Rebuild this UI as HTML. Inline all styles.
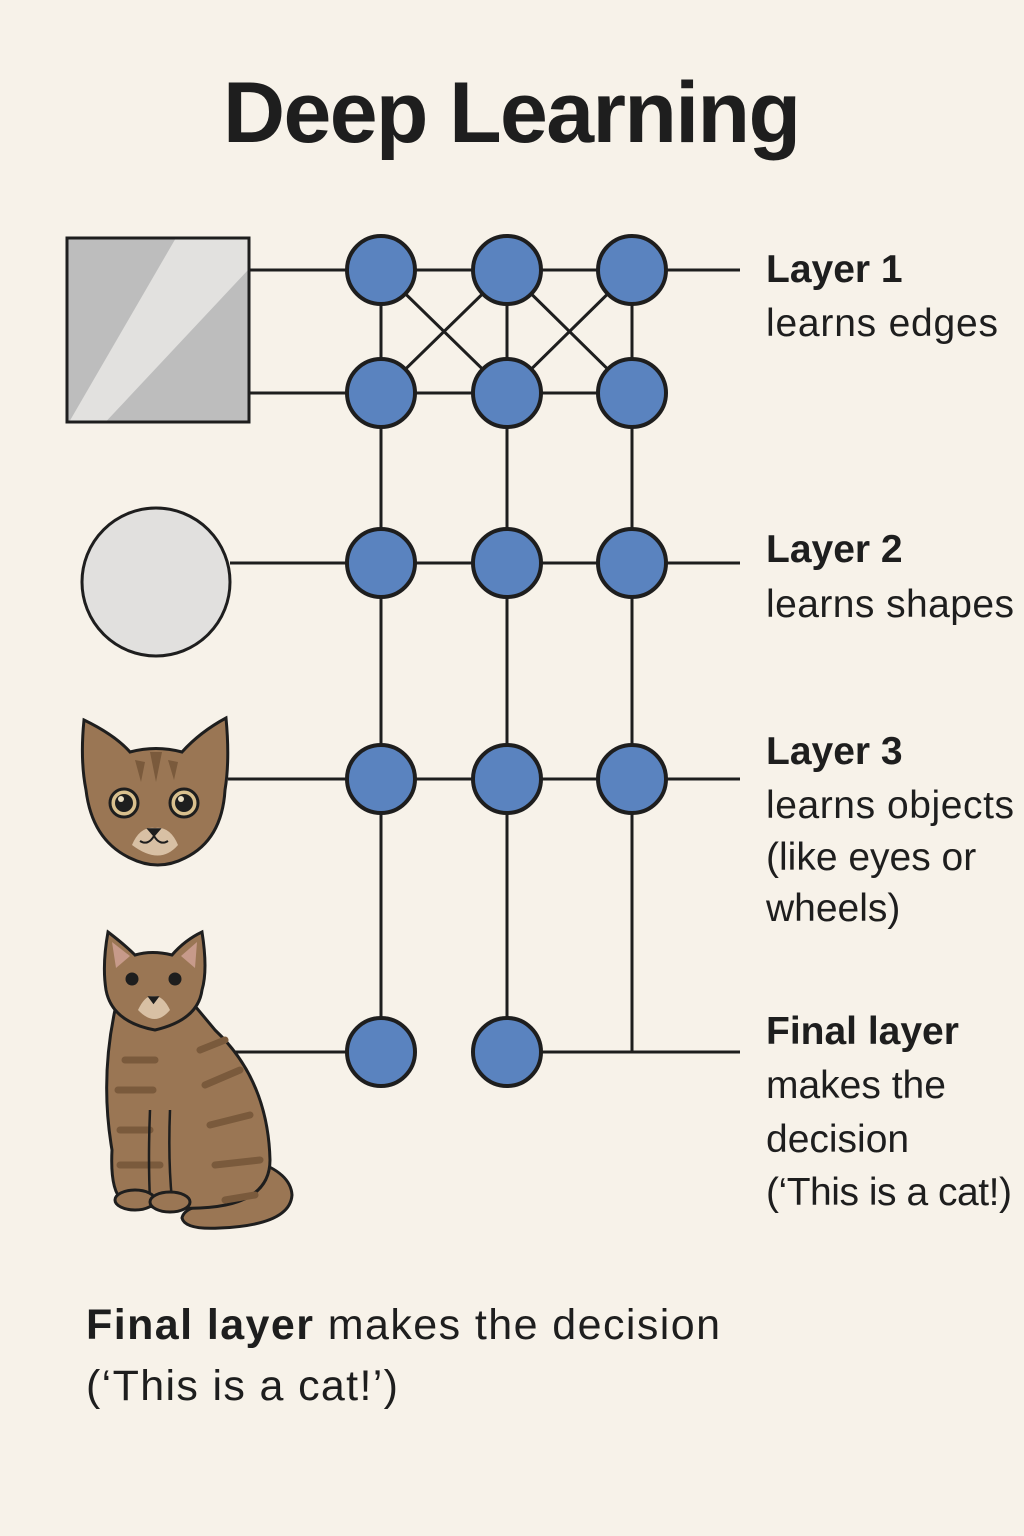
<!DOCTYPE html>
<html><head><meta charset="utf-8"><style>
html,body{margin:0;padding:0;background:#f7f2e9;}
svg{display:block;font-family:"Liberation Sans",sans-serif;}
</style></head><body>
<svg id="chart" width="1024" height="1536" viewBox="0 0 1024 1536" xmlns="http://www.w3.org/2000/svg">
<rect width="1024" height="1536" fill="#f7f2e9"/>
<text x="512" y="142" text-anchor="middle" font-size="86" font-weight="bold" fill="#1e1e1e" textLength="578">Deep Learning</text>
<g id="lines" stroke="#1e1e1e" stroke-width="3" fill="none"></g>
<g id="nodes"></g>

<g>
<rect x="67" y="238" width="182" height="184" fill="#bdbdbd" stroke="#1e1e1e" stroke-width="3"/>
<polygon points="175,239.5 248,239.5 248,270 107,420.5 70,420.5" fill="#e2e1df"/>
<rect x="67" y="238" width="182" height="184" fill="none" stroke="#1e1e1e" stroke-width="3"/>
</g>
<circle cx="156" cy="582" r="74" fill="#e1e0de" stroke="#1e1e1e" stroke-width="3"/>

<g stroke="#1e1e1e" stroke-width="3">
<path d="M84,720 Q115,735 130,752 Q156,745 182,752 Q200,732 226,718 Q230,760 225,790 Q222,840 185,858 Q158,872 130,858 Q92,840 86,790 Q80,760 84,720Z" fill="#9a7654"/>
<g stroke="none" fill="#7a5a3c"><path d="M150,752 l6,30 l6,-30z"/><path d="M135,760 l6,22 l4,-20z"/><path d="M168,760 l6,20 l4,-18z"/></g>
<circle cx="124" cy="803" r="14" fill="#d9c08e"/><circle cx="124" cy="803" r="9" fill="#1e1e1e" stroke="none"/><circle cx="121" cy="799" r="3" fill="#e8dcc0" stroke="none"/>
<circle cx="184" cy="803" r="14" fill="#d9c08e"/><circle cx="184" cy="803" r="9" fill="#1e1e1e" stroke="none"/><circle cx="181" cy="799" r="3" fill="#e8dcc0" stroke="none"/>
<path d="M132,845 Q140,826 155,828 Q170,826 178,845 Q160,866 132,845Z" fill="#d8c0a4" stroke="none"/>
<path d="M148,829 h12 l-6,7z" fill="#1e1e1e" stroke-width="1.5"/>
<path d="M154,836 q-6,10 -14,5 M154,836 q6,10 14,5" fill="none" stroke-width="2"/>
</g>

<g stroke="#1e1e1e" stroke-width="3">
<path d="M200,1150 Q290,1160 292,1195 Q290,1225 220,1228 Q185,1230 182,1218 Q185,1205 215,1205 Q260,1200 255,1185Z" fill="#9a7654"/>
<path d="M115,1010 Q100,1080 112,1150 Q110,1190 122,1200 Q150,1210 200,1208 Q270,1205 270,1160 Q268,1080 215,1030 Q200,1012 190,1000Z" fill="#9a7654"/>
<path d="M108,932 Q125,945 135,955 Q152,950 172,955 Q185,940 202,932 Q208,970 202,990 Q198,1020 155,1030 Q112,1022 106,990 Q102,965 108,932Z" fill="#9a7654"/>
<path d="M112,942 l18,14 l-14,12z M197,942 l-16,14 l14,12z" fill="#c79a8a" stroke="none"/>
<circle cx="132" cy="979" r="6" fill="#1e1e1e" stroke-width="1"/><circle cx="175" cy="979" r="6" fill="#1e1e1e" stroke-width="1"/>
<path d="M138,1010 Q145,995 153,996 Q163,995 170,1010 Q155,1028 138,1010Z" fill="#d8c0a4" stroke="none"/>
<path d="M149,997 h9 l-4.5,6z" fill="#1e1e1e" stroke-width="1.5"/>
<g stroke="#7a5a3c" stroke-width="7" fill="none" stroke-linecap="round">
<path d="M125,1060 h30 M200,1050 l25,-10 M118,1090 h35 M205,1085 l35,-15 M120,1130 h30 M210,1125 l40,-10 M120,1165 h40 M215,1165 l45,-5 M225,1200 l30,-5"/>
</g>
<path d="M150,1110 Q148,1160 150,1200 M170,1110 Q168,1160 172,1200" fill="none" stroke-width="2.5"/>
<ellipse cx="135" cy="1200" rx="20" ry="10" fill="#9a7654"/><ellipse cx="170" cy="1202" rx="20" ry="10" fill="#9a7654"/>
</g>

<g id="labels" fill="#1e1e1e" font-size="39">
<text x="766" y="282" font-weight="bold">Layer 1</text>
<text x="766" y="336" textLength="232">learns edges</text>
<text x="766" y="562" font-weight="bold">Layer 2</text>
<text x="766" y="617" textLength="248">learns shapes</text>
<text x="766" y="764" font-weight="bold">Layer 3</text>
<text x="766" y="818" textLength="248">learns objects</text>
<text x="766" y="870">(like eyes or</text>
<text x="766" y="921">wheels)</text>
<text x="766" y="1044" font-weight="bold">Final layer</text>
<text x="766" y="1098">makes the</text>
<text x="766" y="1152">decision</text>
<text x="766" y="1205" textLength="246">(‘This is a cat!)</text>
</g>
<text x="86" y="1339" font-size="43" fill="#1e1e1e" textLength="634"><tspan font-weight="bold">Final layer</tspan> makes the decision</text>
<text x="86" y="1400" font-size="43" fill="#1e1e1e" textLength="312">(‘This is a cat!’)</text>
</svg>
<script>
const colX = [381, 507, 632];
const rowY = [270, 393, 563, 779, 1052];
const rowStart = [250, 250, 230, 228, 228];
const rowEnd = [740, 632, 740, 740, 740];
const rowNodes = [[0,1,2],[0,1,2],[0,1,2],[0,1,2],[0,1]];
const NS = 'http://www.w3.org/2000/svg';
const L = document.getElementById('lines');
const N = document.getElementById('nodes');
function line(x1,y1,x2,y2,name){
  const l = document.createElementNS(NS,'line');
  l.setAttribute('x1',x1);l.setAttribute('y1',y1);l.setAttribute('x2',x2);l.setAttribute('y2',y2);
  
  
  L.appendChild(l);
}
rowY.forEach((y,i)=>{
  if(i===4){
    line(rowStart[i],y,colX[0],y,'row-line-5a');
    line(colX[1],y,rowEnd[i],y,'row-line-5b');
  } else line(rowStart[i],y,rowEnd[i],y,'row-line-'+(i+1));
});
colX.forEach((x,i)=>line(x,rowY[0],x,rowY[4],'column-line-'+(i+1)));
for(let c=0;c<2;c++){
  line(colX[c],rowY[0],colX[c+1],rowY[1],'cross-line');
  line(colX[c+1],rowY[0],colX[c],rowY[1],'cross-line');
}
rowNodes.forEach((cols,r)=>cols.forEach(c=>{
  const ci = document.createElementNS(NS,'circle');
  ci.setAttribute('cx',colX[c]);ci.setAttribute('cy',rowY[r]);ci.setAttribute('r',34);
  ci.setAttribute('fill','#5a83bf');ci.setAttribute('stroke','#1e1e1e');ci.setAttribute('stroke-width','4');
  
  
  N.appendChild(ci);
}));
</script>
</body></html>
